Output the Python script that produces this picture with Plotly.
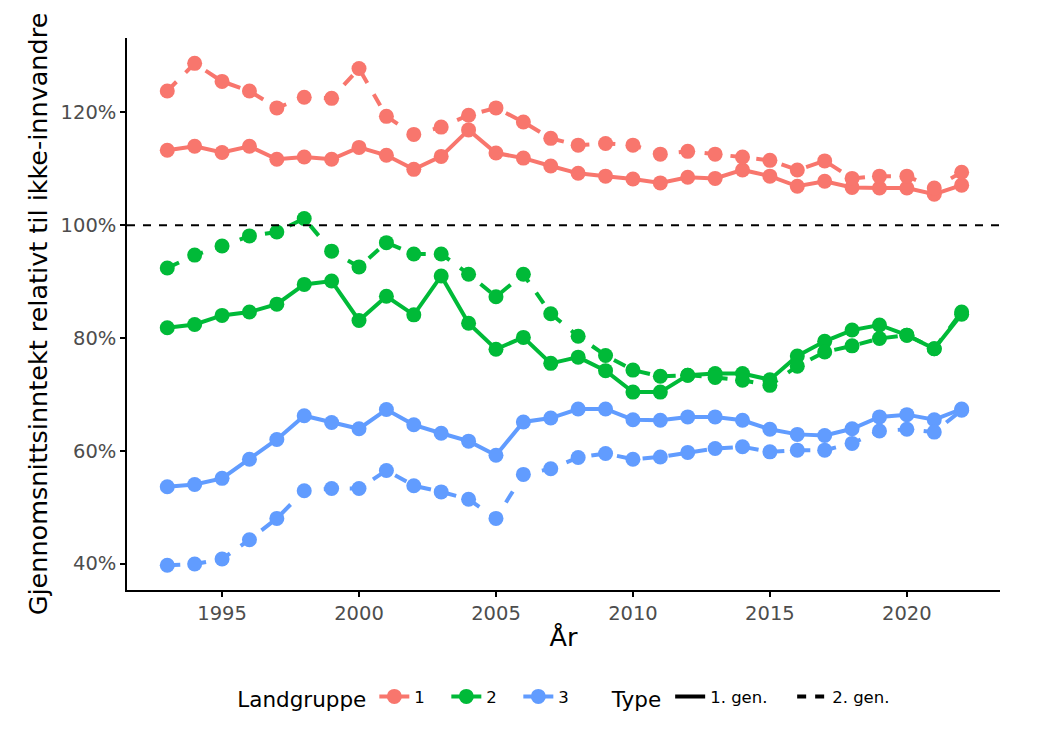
import plotly.graph_objects as go

years = list(range(1993, 2023))

g1_gen1 = [113.3, 114.0, 112.9, 114.0, 111.7, 112.1, 111.7, 113.8, 112.4, 109.9,
           112.2, 116.9, 112.8, 111.9, 110.5, 109.2, 108.7, 108.2, 107.5, 108.5,
           108.3, 109.8, 108.7, 106.9, 107.8, 106.7, 106.6, 106.6, 105.5, 107.1]
g1_gen2 = [123.8, 128.7, 125.5, 123.8, 120.8, 122.7, 122.5, 127.8, 119.3, 116.1,
           117.4, 119.5, 120.8, 118.3, 115.4, 114.2, 114.5, 114.2, 112.6, 113.1,
           112.6, 112.1, 111.5, 109.8, 111.4, 108.3, 108.7, 108.7, 106.6, 109.4]
g2_gen1 = [81.8, 82.4, 84.0, 84.6, 86.0, 89.5, 90.1, 83.1, 87.4, 84.1,
           91.0, 82.6, 78.0, 80.1, 75.5, 76.6, 74.2, 70.4, 70.4, 73.4,
           73.7, 73.7, 72.6, 76.8, 79.4, 81.4, 82.3, 80.5, 78.1, 84.2]
g2_gen2 = [92.4, 94.7, 96.3, 98.1, 98.8, 101.2, 95.4, 92.6, 96.9, 94.9,
           94.9, 91.3, 87.3, 91.3, 84.3, 80.3, 76.9, 74.3, 73.2, 73.4,
           73.0, 72.5, 71.6, 75.0, 77.5, 78.6, 79.9, 80.5, 78.1, 84.6]
g3_gen1 = [53.6, 54.0, 55.1, 58.5, 62.0, 66.2, 65.0, 63.9, 67.3, 64.6,
           63.1, 61.7, 59.2, 65.1, 65.8, 67.4, 67.4, 65.5, 65.4, 66.0,
           66.0, 65.4, 63.8, 62.9, 62.7, 63.9, 66.0, 66.4, 65.5, 67.4]
g3_gen2 = [39.7, 39.9, 40.8, 44.2, 48.0, 52.9, 53.3, 53.3, 56.5, 53.8,
           52.7, 51.4, 48.0, 55.8, 56.8, 58.8, 59.5, 58.5, 58.9, 59.7,
           60.4, 60.7, 59.8, 60.1, 60.1, 61.3, 63.5, 63.8, 63.3, 67.2]

groups = ["1", "2", "3"]
types = ["1. gen.", "2. gen."]
colors = {"1": "#F8766D", "2": "#00BA38", "3": "#619CFF"}
dashes = {"1. gen.": "solid", "2. gen.": "13px,13px"}
series = {
    ("1", "1. gen."): g1_gen1, ("1", "2. gen."): g1_gen2,
    ("2", "1. gen."): g2_gen1, ("2", "2. gen."): g2_gen2,
    ("3", "1. gen."): g3_gen1, ("3", "2. gen."): g3_gen2,
}
reference_level = 100

FONT = "DejaVu Sans"
fig = go.Figure()

for (g, t), vals in series.items():
    fig.add_trace(go.Scatter(
        x=years, y=vals, mode="lines+markers",
        line=dict(color=colors[g], width=4, dash=dashes[t]),
        marker=dict(color=colors[g], size=15),
        showlegend=False, hoverinfo="skip"))

for g in groups:
    fig.add_trace(go.Scatter(
        x=[None], y=[None], mode="lines+markers", name=g,
        line=dict(color=colors[g], width=4),
        marker=dict(color=colors[g], size=15),
        legend="legend"))

for t in types:
    fig.add_trace(go.Scatter(
        x=[None], y=[None], mode="lines", name=t,
        line=dict(color="black", width=4, dash="solid" if t == "1. gen." else "9px,9px"),
        legend="legend2"))

fig.add_shape(type="line", xref="paper", x0=0, x1=1, yref="y",
              y0=reference_level, y1=reference_level,
              line=dict(color="black", width=2, dash="8px,8px"))

fig.update_layout(
    width=1046, height=738,
    margin=dict(l=119, r=54, t=30, b=156),
    paper_bgcolor="white", plot_bgcolor="white",
    font=dict(family=FONT, color="black"),
    xaxis=dict(
        range=[1991.53, 2023.4], tickvals=[1995, 2000, 2005, 2010, 2015, 2020],
        showgrid=False, zeroline=False,
        showline=True, linecolor="black", linewidth=1.5,
        ticks="outside", ticklen=5, tickwidth=1.5, tickcolor="black",
        tickfont=dict(size=19.5, color="#4D4D4D", family=FONT),
        title=dict(text="År", font=dict(size=25.5, color="black", family=FONT), standoff=4),
    ),
    yaxis=dict(
        range=[35.3, 133.2], tickvals=[40, 60, 80, 100, 120],
        ticktext=["40%", "60%", "80%", "100%", "120%"],
        showgrid=False, zeroline=False,
        showline=True, linecolor="black", linewidth=1.5,
        ticks="outside", ticklen=5, tickwidth=1.5, tickcolor="black",
        tickfont=dict(size=19.5, color="#4D4D4D", family=FONT),
        title=dict(text="Gjennomsnittsinntekt relativt til ikke-innvandre",
                   font=dict(size=25.5, color="black", family=FONT), standoff=6),
    ),
    legend=dict(
        orientation="h", x=0.124, xanchor="left", y=-0.196, yanchor="middle",
        title=dict(text="Landgruppe", font=dict(size=21.5, family=FONT), side="left"),
        font=dict(size=16.5, family=FONT), entrywidth=27, entrywidthmode="pixels",
        bgcolor="rgba(0,0,0,0)",
    ),
    legend2=dict(
        orientation="h", x=0.553, xanchor="left", y=-0.196, yanchor="middle",
        title=dict(text="Type", font=dict(size=21.5, family=FONT), side="left"),
        font=dict(size=16.5, family=FONT), entrywidth=77, entrywidthmode="pixels",
        bgcolor="rgba(0,0,0,0)",
    ),
)

fig.write_html("out.html")
